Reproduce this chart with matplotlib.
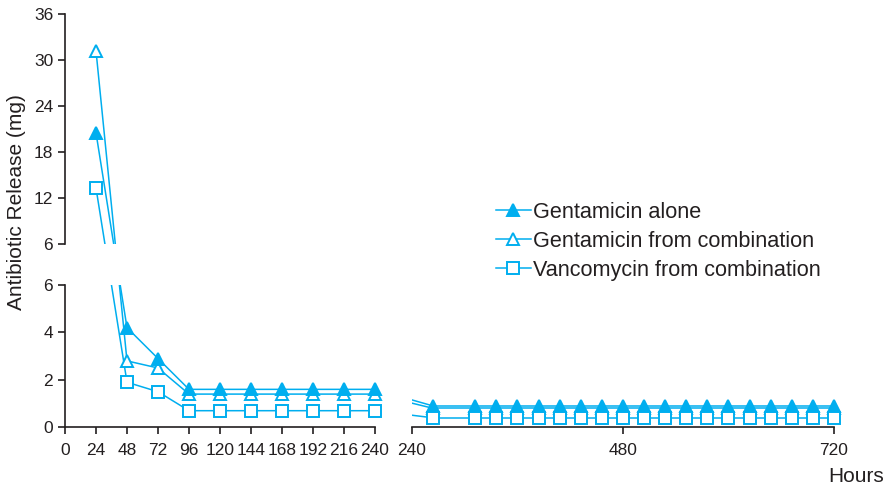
import matplotlib
matplotlib.use("Agg")
import matplotlib.pyplot as plt

plt.rcParams['font.family'] = ['Liberation Sans', 'DejaVu Sans']

# ---- data ----
hours_top = [24]
gent_alone_top = [20.5]
gent_combo_top = [31.2]
vanco_top = [13.3]

hours_left = [48, 72, 96, 120, 144, 168, 192, 216, 240]
gent_alone_left = [4.2, 2.9, 1.6, 1.6, 1.6, 1.6, 1.6, 1.6, 1.6]
gent_combo_left = [2.8, 2.5, 1.4, 1.4, 1.4, 1.4, 1.4, 1.4, 1.4]
vanco_left = [1.9, 1.5, 0.7, 0.7, 0.7, 0.7, 0.7, 0.7, 0.7]

hours_right = [264, 312, 336, 360, 384, 408, 432, 456, 480, 504, 528, 552,
               576, 600, 624, 648, 672, 696, 720]
gent_alone_right = [0.9] * 19
gent_combo_right = [0.8] * 19
vanco_right = [0.4] * 19

series_names = ["Gentamicin alone", "Gentamicin from combination",
                "Vancomycin from combination"]

top_yticks = [6, 12, 18, 24, 30, 36]
bot_yticks = [0, 2, 4, 6]
left_xticks = [0, 24, 48, 72, 96, 120, 144, 168, 192, 216, 240]
right_xticks = [240, 480, 720]

# ---- style ----
C = '#00AEEF'
AX = '#231f20'
TXT = '#231f20'
W, H = 895, 487
fig = plt.figure(figsize=(W / 100, H / 100), dpi=100)

def fr(x0, y0, x1, y1):
    return [x0 / W, 1 - y1 / H, (x1 - x0) / W, (y1 - y0) / H]

ax_top = fig.add_axes(fr(65, 14, 375, 244))
ax_bot = fig.add_axes(fr(65, 285, 375, 427.3))
ax_r = fig.add_axes(fr(412, 285, 834, 427.3))

ax_top.set_xlim(0, 240)
ax_top.set_ylim(6, 36)
ax_bot.set_xlim(0, 240)
ax_bot.set_ylim(0, 6)
ax_r.set_xlim(240, 720)
ax_r.set_ylim(0, 6)

styles = [
    dict(marker='^', markersize=9, markerfacecolor=C, markeredgecolor=C, zorder=4),
    dict(marker='^', markersize=9, markerfacecolor='white', markeredgecolor=C, zorder=3),
    dict(marker='s', markersize=8.5, markerfacecolor='white', markeredgecolor=C, zorder=5),
]

tops = [gent_alone_top, gent_combo_top, vanco_top]
lefts = [gent_alone_left, gent_combo_left, vanco_left]
rights = [gent_alone_right, gent_combo_right, vanco_right]


def bridge(ax_from, p_from, ax_to, p_to, ax_draw, z):
    """Straight (screen-space) segment between points in two axes,
    drawn and clipped inside ax_draw."""
    a = ax_draw.transData.inverted().transform(ax_from.transData.transform(p_from))
    b = ax_draw.transData.inverted().transform(ax_to.transData.transform(p_to))
    ax_draw.plot([a[0], b[0]], [a[1], b[1]], color=C, lw=1.1, zorder=z,
                 clip_on=True)


handles = []
for st, yt, yl, yr in zip(styles, tops, lefts, rights):
    ax_top.plot(hours_top, yt, color=C, lw=1.1, markeredgewidth=1.4,
                clip_on=False, **st)
    h, = ax_bot.plot(hours_left, yl, color=C, lw=1.1, markeredgewidth=1.4,
                     clip_on=False, **st)
    ax_r.plot(hours_right, yr, color=C, lw=1.1, markeredgewidth=1.4,
              clip_on=False, **st)
    handles.append(h)
    p_top = (hours_top[0], yt[0])
    p_l0 = (hours_left[0], yl[0])
    p_l1 = (hours_left[-1], yl[-1])
    p_r0 = (hours_right[0], yr[0])
    bridge(ax_top, p_top, ax_bot, p_l0, ax_top, 2)
    bridge(ax_top, p_top, ax_bot, p_l0, ax_bot, 2)
    bridge(ax_bot, p_l1, ax_r, p_r0, ax_r, 2)

ax_top.set_xlim(0, 240)
ax_top.set_ylim(6, 36)
ax_bot.set_xlim(0, 240)
ax_bot.set_ylim(0, 6)
ax_r.set_xlim(240, 720)
ax_r.set_ylim(0, 6)

for ax in (ax_top, ax_bot, ax_r):
    ax.set_facecolor('none')
    for s in ax.spines.values():
        s.set_color(AX)
        s.set_linewidth(1.2)
    ax.spines['top'].set_visible(False)
    ax.spines['right'].set_visible(False)
    ax.tick_params(colors=AX, labelcolor=TXT, labelsize=12.5,
                   length=5, width=1.2, direction='out')

ax_top.set_yticks(top_yticks)
ax_top.spines['bottom'].set_visible(False)
ax_top.set_xticks([])

ax_bot.set_yticks(bot_yticks)
ax_bot.set_xticks(left_xticks)
ax_bot.tick_params(axis='x', pad=6)

ax_r.spines['left'].set_visible(False)
ax_r.set_yticks([])
ax_r.set_xticks(right_xticks)
ax_r.tick_params(axis='x', pad=6)

fig.legend(handles, series_names, loc='upper left',
           bbox_to_anchor=(496 / W, 1 - 202 / H), frameon=False,
           fontsize=15.6, handlelength=1.6, handletextpad=0.1,
           labelspacing=0.36, borderaxespad=0, borderpad=0,
           labelcolor=TXT)

fig.text(17 / W, 1 - 202 / H, "Antibiotic Release (mg)", rotation=90,
         ha='center', va='center', fontsize=15, color=TXT)
fig.text(856 / W, 1 - 476 / H, "Hours", ha='center', va='center',
         fontsize=15, color=TXT)

fig.savefig("out.png", dpi=100)
